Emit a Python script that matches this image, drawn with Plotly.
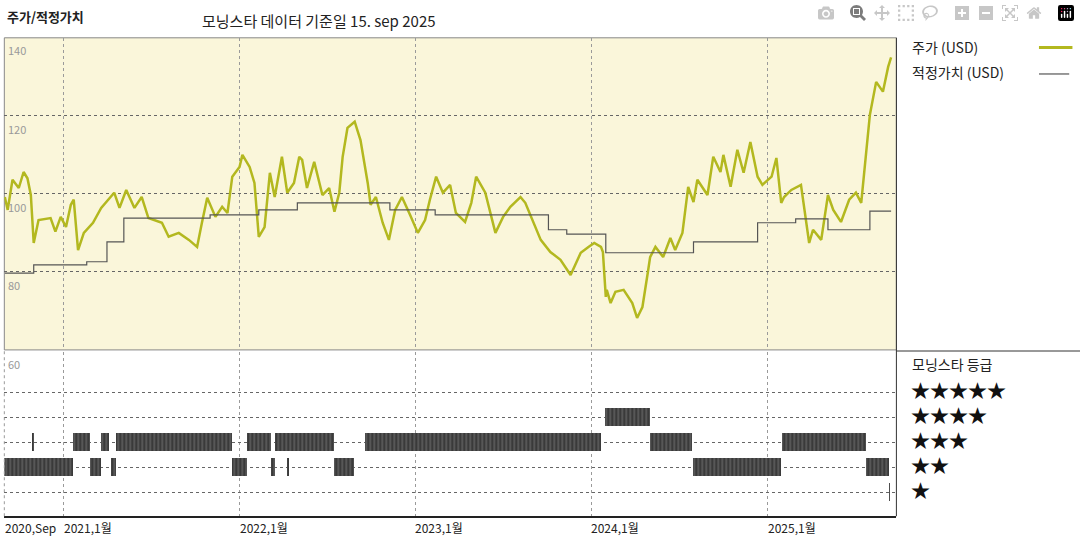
import pandas as pd
import plotly.graph_objects as go

# price (USD)
price_dates = [
    '2020-09-01', '2020-09-07', '2020-09-17', '2020-09-30', '2020-10-10', '2020-10-18', '2020-10-25',
    '2020-10-31', '2020-11-10', '2020-12-05', '2020-12-15', '2020-12-26', '2021-01-06', '2021-01-16',
    '2021-01-22', '2021-01-31', '2021-02-12', '2021-03-03', '2021-03-20', '2021-04-16', '2021-04-27',
    '2021-05-11', '2021-05-28', '2021-06-12', '2021-06-26', '2021-07-24', '2021-08-07', '2021-08-28',
    '2021-09-18', '2021-10-05', '2021-10-15', '2021-10-26', '2021-11-12', '2021-11-26', '2021-12-07',
    '2021-12-17', '2022-01-01', '2022-01-07', '2022-01-22', '2022-02-01', '2022-02-10', '2022-02-22',
    '2022-03-05', '2022-03-15', '2022-03-30', '2022-04-10', '2022-04-24', '2022-05-05', '2022-05-11',
    '2022-05-21', '2022-06-05', '2022-06-22', '2022-07-06', '2022-07-17', '2022-07-27', '2022-08-03',
    '2022-08-13', '2022-08-28', '2022-09-09', '2022-09-24', '2022-09-30', '2022-10-11', '2022-10-25',
    '2022-11-07', '2022-11-20', '2022-12-04', '2022-12-21', '2023-01-06', '2023-01-21', '2023-01-31',
    '2023-02-13', '2023-02-27', '2023-03-14', '2023-03-26', '2023-04-14', '2023-04-27', '2023-05-07',
    '2023-05-26', '2023-06-16', '2023-07-02', '2023-07-17', '2023-08-07', '2023-08-17', '2023-09-03',
    '2023-09-18', '2023-10-08', '2023-10-29', '2023-11-19', '2023-12-10', '2023-12-26', '2024-01-07',
    '2024-01-21', '2024-01-25', '2024-01-31', '2024-02-02', '2024-02-10', '2024-02-20', '2024-03-08',
    '2024-03-26', '2024-04-05', '2024-04-16', '2024-04-28', '2024-05-02', '2024-05-13', '2024-05-29',
    '2024-06-13', '2024-06-23', '2024-07-08', '2024-07-20', '2024-07-31', '2024-08-08', '2024-08-29',
    '2024-09-10', '2024-09-25', '2024-10-01', '2024-10-16', '2024-10-30', '2024-11-12', '2024-11-26',
    '2024-12-11', '2024-12-21', '2025-01-09', '2025-01-19', '2025-01-29', '2025-02-04', '2025-02-19',
    '2025-03-11', '2025-03-28', '2025-04-05', '2025-04-22', '2025-05-06', '2025-05-17', '2025-06-02',
    '2025-06-19', '2025-07-03', '2025-07-14', '2025-07-28', '2025-08-01', '2025-08-14', '2025-08-28',
    '2025-09-08', '2025-09-14',
]
price_values = [
    99.2, 95.9, 103.6, 101.5, 105.6, 104.0, 99.7,
    87.4, 93.3, 93.8, 90.3, 94.1, 91.5, 97.2,
    98.5, 85.6, 90.0, 92.6, 96.4, 100.3, 96.4,
    101.0, 96.4, 99.2, 93.8, 92.6, 89.0, 90.0,
    88.2, 86.4, 92.6, 99.0, 94.1, 96.7, 95.1,
    104.4, 106.9, 110.0, 106.9, 102.8, 89.0, 91.5,
    105.4, 99.2, 109.5, 100.3, 102.8, 109.5, 108.7,
    101.5, 108.2, 99.7, 101.5, 95.4, 100.3, 109.5,
    116.9, 118.5, 113.8, 102.8, 97.2, 99.2, 92.6,
    88.2, 95.9, 99.2, 94.6, 90.0, 93.3, 98.5,
    104.4, 100.3, 102.3, 95.1, 92.8, 97.7, 104.4,
    100.3, 90.0, 94.1, 96.7, 99.2, 97.7, 92.6,
    88.2, 85.1, 83.1, 79.2, 84.9, 86.4, 87.4,
    86.4, 85.1, 73.6, 75.4, 72.0, 74.9, 75.4,
    72.0, 68.2, 71.0, 80.5, 83.8, 86.4, 83.8,
    88.7, 85.6, 90.0, 101.8, 97.9, 103.6, 99.7,
    109.5, 105.6, 110.0, 101.8, 111.3, 105.4, 113.3,
    104.4, 102.3, 104.4, 109.2, 97.7, 99.2, 101.0,
    102.3, 87.4, 90.8, 88.2, 99.7, 95.9, 92.8,
    98.5, 100.3, 97.7, 114.6, 120.3, 128.7, 126.2,
    132.6, 135.0,
]

# fair value (USD), step changes
fair_dates = ['2020-09-01', '2020-10-31', '2021-02-18', '2021-04-01', '2021-05-06', '2021-11-01',
              '2022-02-10', '2022-05-01', '2022-11-09', '2023-02-11', '2023-10-04', '2023-11-11',
              '2024-01-31', '2024-07-31', '2024-12-11', '2025-02-28', '2025-05-06', '2025-08-01',
              '2025-09-14']
fair_values = [79.7, 81.8, 82.6, 87.7, 93.8, 94.6, 95.9, 97.7, 95.9, 94.6, 90.8, 89.7,
               84.9, 87.7, 92.6, 93.6, 90.8, 95.6, 95.6]

# morningstar rating periods
rating_start = ['2020-10-29', '2021-01-22', '2021-03-20', '2021-04-20', '2022-01-18', '2022-03-17',
                '2022-09-20', '2024-05-02', '2025-01-31',
                '2020-09-01', '2021-02-26', '2021-04-10', '2021-12-17', '2022-03-08', '2022-04-12',
                '2022-07-17', '2024-07-31', '2025-07-24',
                '2024-01-31', '2025-09-11']
rating_end = ['2020-11-02', '2021-02-26', '2021-04-05', '2021-12-17', '2022-03-08', '2022-07-17',
              '2024-01-21', '2024-07-29', '2025-07-24',
              '2021-01-22', '2021-03-20', '2021-04-20', '2022-01-18', '2022-03-17', '2022-04-13',
              '2022-08-28', '2025-01-29', '2025-09-10',
              '2024-05-02', '2025-09-12']
rating_stars = [3, 3, 3, 3, 3, 3, 3, 3, 3,
                2, 2, 2, 2, 2, 2, 2, 2, 2,
                4, 1]

year_ticks = ['2020-09-01', '2021-01-01', '2022-01-01', '2023-01-01', '2024-01-01', '2025-01-01']
year_labels = ['2020,Sep', '2021,1월', '2022,1월', '2023,1월', '2024,1월', '2025,1월']

FONT = 'Noto Sans CJK KR'
GREEN = '#b3b81f'
GRID = '#9a9a9a'

fig = go.Figure()

fig.add_trace(go.Scatter(x=price_dates, y=price_values, mode='lines',
                         line=dict(color=GREEN, width=2.5), xaxis='x', yaxis='y'))
fig.add_trace(go.Scatter(x=fair_dates, y=fair_values, mode='lines', line_shape='hv',
                         line=dict(color='#555555', width=1.2), xaxis='x', yaxis='y'))

rs = pd.to_datetime(pd.Series(rating_start))
re_ = pd.to_datetime(pd.Series(rating_end))
widths = ((re_ - rs).dt.total_seconds() * 1000).clip(lower=86400000)
mids = rs + (re_ - rs) / 2
fig.add_trace(go.Bar(x=mids, y=[0.7] * len(rating_stars), base=[s - 0.35 for s in rating_stars],
                     width=widths, marker=dict(color='#3a3a3a', line=dict(width=0),
                                              pattern=dict(shape='|', fgcolor='#9a9a9a', size=4, solidity=0.3)),
                     xaxis='x2', yaxis='y2'))

x_range = ['2020-08-31', '2025-09-25']
fig.update_layout(
    width=1080, height=540, showlegend=False,
    margin=dict(l=0, r=0, t=0, b=0),
    paper_bgcolor='white', plot_bgcolor='white',
    font=dict(family=FONT, color='#222'),
    xaxis=dict(domain=[0.004, 0.83], range=x_range, type='date', tickvals=year_ticks[1:],
               showticklabels=False, showgrid=True, gridcolor=GRID, griddash='dot', zeroline=False,
               anchor='y'),
    yaxis=dict(domain=[0.352, 0.93], range=[60, 140], tickvals=[80, 100, 120], showticklabels=False,
               showgrid=True, gridcolor='#666', griddash='dot', zeroline=False),
    xaxis2=dict(domain=[0.004, 0.83], range=x_range, type='date', tickvals=year_ticks[1:],
                showticklabels=False, showgrid=True, gridcolor=GRID, griddash='dot', zeroline=False,
                anchor='y2', showline=True, linecolor='#222', linewidth=1.5),
    yaxis2=dict(domain=[0.044, 0.348], range=[0.04, 6.6], tickvals=[1, 2, 3, 4, 5], showticklabels=False,
                showgrid=True, gridcolor='#666', griddash='dot', zeroline=False),
    bargap=0,
)

shapes = [
    dict(type='rect', xref='paper', yref='paper', x0=0.004, x1=0.83, y0=0.352, y1=0.93,
         fillcolor='#faf6da', line=dict(color='#888', width=1), layer='below'),
    dict(type='line', xref='paper', yref='paper', x0=0.83, x1=0.83, y0=0.044, y1=0.93,
         line=dict(color='#333', width=1)),
    dict(type='line', xref='paper', yref='paper', x0=0.83, x1=1, y0=0.35, y1=0.35,
         line=dict(color='#333', width=1)),
    dict(type='line', xref='paper', yref='paper', x0=0.004, x1=0.004, y0=0.044, y1=0.352,
         line=dict(color=GRID, width=1, dash='dot')),
    dict(type='line', xref='paper', yref='paper', x0=0.962, x1=0.993, y0=0.912, y1=0.912,
         line=dict(color=GREEN, width=3)),
    dict(type='line', xref='paper', yref='paper', x0=0.962, x1=0.99, y0=0.863, y1=0.863,
         line=dict(color='#555', width=1.2)),
]
fig.update_layout(shapes=shapes)

ann = [
    dict(text='<b>주가/적정가치</b>', x=0.005, y=0.99, font=dict(size=13)),
    dict(text='모닝스타 데이터 기준일 15. sep 2025', x=0.185, y=0.985, font=dict(size=15)),
    dict(text='주가 (USD)', x=0.843, y=0.935, font=dict(size=14)),
    dict(text='적정가치 (USD)', x=0.843, y=0.888, font=dict(size=14)),
    dict(text='모닝스타 등급', x=0.843, y=0.348, font=dict(size=14)),
    dict(text='140', x=0.006, y=0.925, font=dict(size=11, color='#999')),
    dict(text='120', x=0.006, y=0.779, font=dict(size=11, color='#999')),
    dict(text='100', x=0.006, y=0.635, font=dict(size=11, color='#999')),
    dict(text='80', x=0.006, y=0.49, font=dict(size=11, color='#999')),
    dict(text='60', x=0.006, y=0.345, font=dict(size=11, color='#999')),
]
for i, n in enumerate([5, 4, 3, 2, 1]):
    ann.append(dict(text='★' * n, x=0.842, y=0.278 - i * 0.0463, yanchor='middle',
                    font=dict(size=19, color='#111')))
for t, lab in zip(year_ticks, year_labels):
    ann.append(dict(text=lab, x=t, xref='x2', y=0.043, font=dict(size=12), xshift=-2))
for a in ann:
    a.setdefault('xref', 'paper')
    a.setdefault('yanchor', 'top')
    a.update(yref='paper', xanchor='left', showarrow=False)
fig.update_layout(annotations=ann)

fig.write_html('out.html')

# drop the default page margin so the figure sits at the window's corner
with open('out.html', encoding='utf-8') as f:
    page = f.read()
page = page.replace('<body>', '<body style="margin:0">', 1)
with open('out.html', 'w', encoding='utf-8') as f:
    f.write(page)
